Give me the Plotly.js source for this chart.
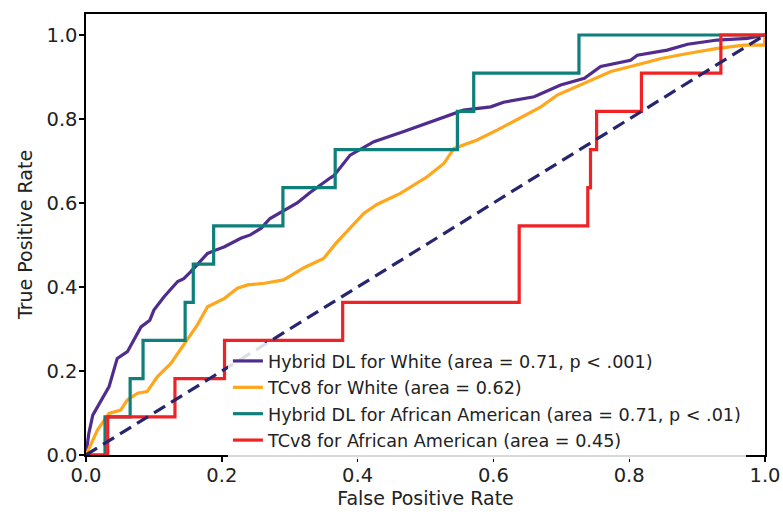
<!DOCTYPE html>
<html>
<head>
<meta charset="utf-8">
<script src="https://cdn.plot.ly/plotly-3.0.1.min.js"></script>
<style>html,body{margin:0;padding:0;background:#fff;}#chart{width:783px;height:515px;}</style>
</head>
<body>
<div id="chart"></div>
<script>
// Hybrid DL for White
const dlWhiteFpr = [0, 0.004, 0.010, 0.017, 0.025, 0.034, 0.046, 0.061, 0.081, 0.094, 0.100, 0.115, 0.135, 0.144, 0.154, 0.179, 0.188, 0.204, 0.228, 0.242, 0.258, 0.271, 0.311, 0.330, 0.360, 0.365, 0.389, 0.424, 0.468, 0.517, 0.556, 0.596, 0.615, 0.660, 0.699, 0.734, 0.758, 0.802, 0.812, 0.856, 0.886, 0.930, 0.974, 1.0];
const dlWhiteTpr = [0, 0.050, 0.095, 0.115, 0.140, 0.163, 0.230, 0.246, 0.305, 0.321, 0.345, 0.377, 0.413, 0.420, 0.436, 0.480, 0.486, 0.496, 0.516, 0.524, 0.540, 0.563, 0.600, 0.625, 0.660, 0.665, 0.714, 0.746, 0.770, 0.798, 0.821, 0.829, 0.840, 0.853, 0.881, 0.897, 0.925, 0.940, 0.952, 0.964, 0.978, 0.988, 0.992, 1.0];
// TCv8 for White
const tcWhiteFpr = [0, 0.008, 0.017, 0.034, 0.051, 0.061, 0.076, 0.090, 0.105, 0.125, 0.145, 0.158, 0.164, 0.179, 0.204, 0.223, 0.238, 0.263, 0.291, 0.321, 0.350, 0.367, 0.389, 0.409, 0.429, 0.463, 0.503, 0.527, 0.542, 0.576, 0.606, 0.625, 0.640, 0.670, 0.694, 0.738, 0.773, 0.812, 0.847, 0.886, 0.930, 0.969, 0.999, 1.0];
const tcWhiteTpr = [0, 0.030, 0.060, 0.099, 0.107, 0.131, 0.147, 0.151, 0.186, 0.218, 0.266, 0.298, 0.310, 0.353, 0.373, 0.397, 0.405, 0.409, 0.417, 0.446, 0.468, 0.502, 0.540, 0.575, 0.597, 0.623, 0.663, 0.694, 0.730, 0.750, 0.774, 0.790, 0.802, 0.829, 0.857, 0.889, 0.913, 0.929, 0.944, 0.956, 0.968, 0.976, 0.976, 1.0];
// Hybrid DL for African American
const dlAAFpr = [0, 0.028, 0.065, 0.084, 0.146, 0.158, 0.188, 0.290, 0.367, 0.547, 0.571, 0.726, 1.0];
const dlAATpr = [0, 0.0909, 0.1818, 0.2727, 0.3636, 0.4545, 0.5455, 0.6364, 0.7273, 0.8182, 0.9091, 1.0, 1.0];
// TCv8 for African American
const tcAAFpr = [0, 0.032, 0.131, 0.204, 0.378, 0.638, 0.739, 0.743, 0.752, 0.818, 0.935, 1.0];
const tcAATpr = [0, 0.0909, 0.1818, 0.2727, 0.3636, 0.5455, 0.6364, 0.7273, 0.8182, 0.9091, 1.0, 1.0];
// Chance line
const chanceX = [0, 1];
const chanceY = [0, 1];

const seriesNames = [
  'Hybrid DL for White (area = 0.71, p < .001)',
  'TCv8 for White (area = 0.62)',
  'Hybrid DL for African American (area = 0.71, p < .01)',
  'TCv8 for African American (area = 0.45)'
];
const tickVals = [0, 0.2, 0.4, 0.6, 0.8, 1.0];
const tickText = ['0.0', '0.2', '0.4', '0.6', '0.8', '1.0'];

const FONT = 'DejaVu Sans, sans-serif';

const traces = [
  {x: dlWhiteFpr, y: dlWhiteTpr, name: seriesNames[0], mode: 'lines', legendgroup: 'a',
   line: {color: '#4f2c8e', width: 3.2}},
  {x: tcWhiteFpr, y: tcWhiteTpr, name: seriesNames[1], mode: 'lines', legendgroup: 'b',
   line: {color: '#ffa61a', width: 3.2}},
  {x: dlAAFpr, y: dlAATpr, name: seriesNames[2], mode: 'lines', legendgroup: 'c',
   line: {color: '#0f7f7c', width: 3.2, shape: 'hv'}},
  {x: tcAAFpr, y: tcAATpr, name: seriesNames[3], mode: 'lines', legendgroup: 'd',
   line: {color: '#f02226', width: 3.2, shape: 'hv'}},
  {x: chanceX, y: chanceY, mode: 'lines', showlegend: false, hoverinfo: 'skip',
   line: {color: '#27256f', width: 3.2, dash: '13px,7px'}}
];

const layout = {
  width: 783, height: 515,
  margin: {l: 86, r: 18, t: 14, b: 60, pad: 0},
  paper_bgcolor: '#ffffff', plot_bgcolor: '#ffffff',
  font: {family: FONT, size: 19, color: '#222222'},
  showlegend: true,
  legend: {
    x: 0.209, y: 0.254, xanchor: 'left', yanchor: 'top',
    bgcolor: 'rgba(255,255,255,0.85)', borderwidth: 0,
    font: {family: FONT, size: 17.6, color: '#222222'},
    traceorder: 'grouped', tracegroupgap: 0.5, itemwidth: 30
  },
  xaxis: {
    range: [0, 1], tickvals: tickVals, ticktext: tickText,
    showgrid: false, zeroline: false, automargin: false,
    showline: true, linecolor: '#000000', linewidth: 1.6, mirror: true,
    ticks: 'outside', ticklen: 5, tickwidth: 1.4, tickcolor: '#000000',
    ticklabelstandoff: -3,
    tickfont: {family: FONT, size: 19.5, color: '#222222'},
    title: {text: 'False Positive Rate', font: {family: FONT, size: 19, color: '#222222'}, standoff: 0}
  },
  yaxis: {
    range: [0, 1.05], tickvals: tickVals, ticktext: tickText,
    showgrid: false, zeroline: false, automargin: false,
    showline: true, linecolor: '#000000', linewidth: 1.6, mirror: true,
    ticks: 'outside', ticklen: 5, tickwidth: 1.4, tickcolor: '#000000',
    ticklabelstandoff: -2,
    tickfont: {family: FONT, size: 19.5, color: '#222222'},
    title: {text: 'True Positive Rate', font: {family: FONT, size: 19, color: '#222222'}, standoff: 9}
  }
};

Plotly.newPlot('chart', traces, layout, {displayModeBar: false, staticPlot: true});
</script>
</body>
</html>
